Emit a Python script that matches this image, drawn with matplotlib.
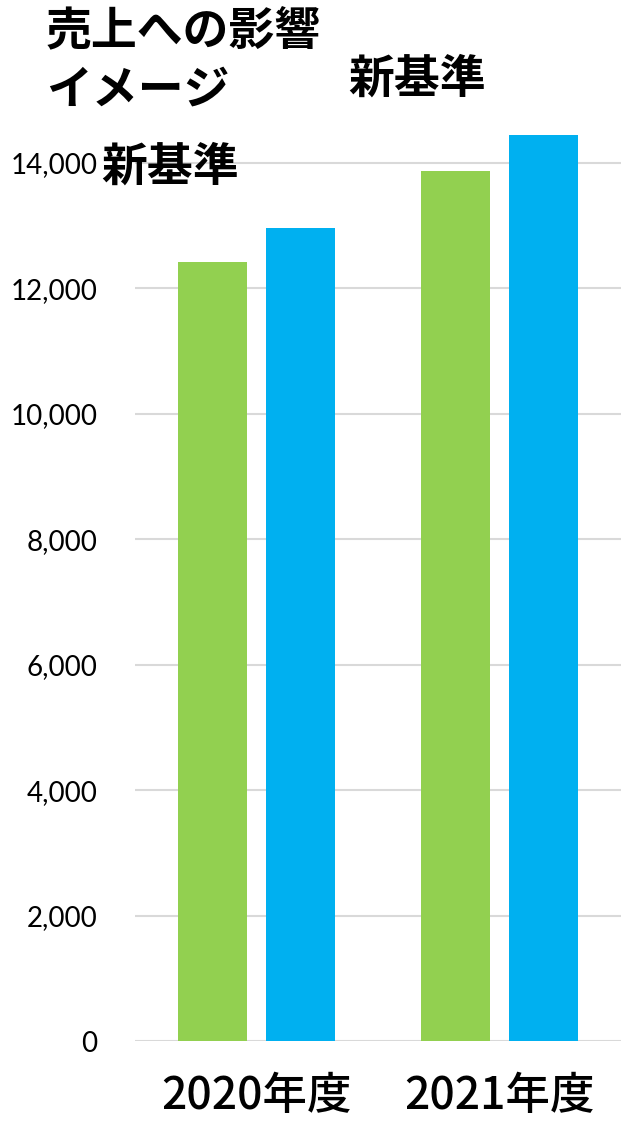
import numpy as np
import matplotlib
matplotlib.use("Agg")
import matplotlib.pyplot as plt

# ---------------------------------------------------
# DATA
# ---------------------------------------------------
years = ["2020年度", "2021年度"]
green_values = [12420, 13870]
blue_values = [12960, 14450]
y_ticks = [0, 2000, 4000, 6000, 8000, 10000, 12000, 14000]

GREEN = "#92D050"
BLUE = "#00B0F0"
GRID = "#D9D9D9"

plt.rcParams["font.family"] = ["Noto Sans CJK JP", "DejaVu Sans"]

fig = plt.figure(figsize=(6.21, 11.23), dpi=100)
ax = fig.add_axes([0.2174, 0.0730, 0.7826, 0.8935])

x = np.arange(len(years))
width = 0.286
offset = 0.182

ax.bar(x - offset, green_values, width, color=GREEN, zorder=3)
ax.bar(x + offset, blue_values, width, color=BLUE, zorder=3)

ax.set_xlim(-0.5, 1.5)
ax.set_ylim(0, 16000)
ax.set_yticks(y_ticks)
ax.set_yticklabels([f"{v:,}" for v in y_ticks], family=["Lato", "DejaVu Sans"],
                   fontsize=20)
ax.set_xticks(x)
ax.set_xticklabels(years, fontsize=32, fontweight="medium")
ax.tick_params(axis="y", length=0, pad=27)
ax.tick_params(axis="x", length=0, pad=24)

ax.grid(axis="y", color=GRID, linewidth=1.5, zorder=0)
for s in ax.spines.values():
    s.set_visible(False)

# title and labels
fig.text(46 / 621, 1 - 8 / 1123, "売上への影響\nイメージ", fontsize=33,
         fontweight="bold", ha="left", va="top", linespacing=1.38)
fig.text(417 / 621, 1 - 80 / 1123, "新基準", fontsize=33, fontweight="bold",
         ha="center", va="center")
fig.text(170 / 621, 1 - 168 / 1123, "新基準", fontsize=33, fontweight="bold",
         ha="center", va="center")

plt.savefig("out.png", dpi=100)
plt.close()
